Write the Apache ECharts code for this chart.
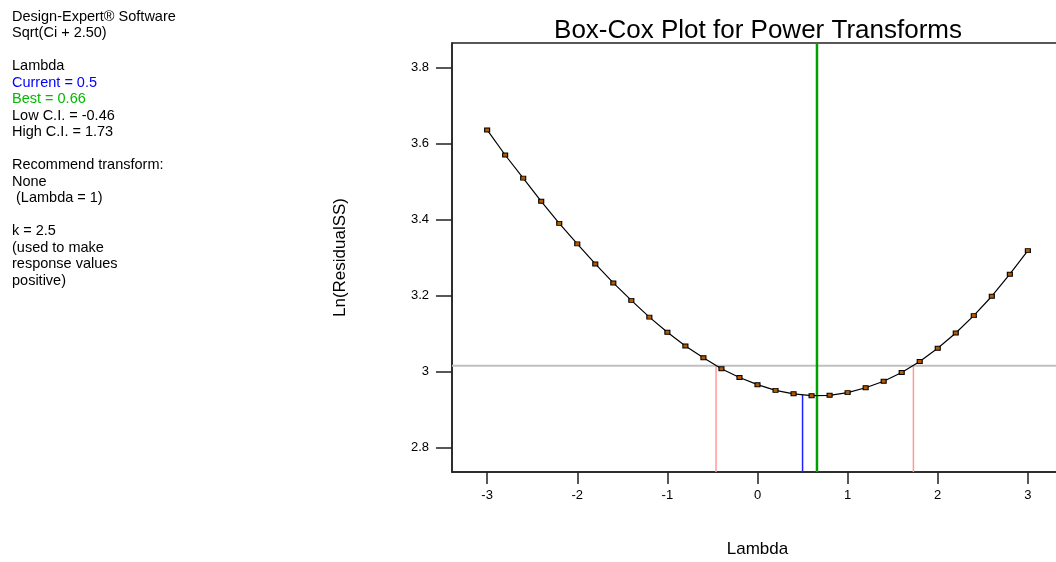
<!DOCTYPE html>
<html>
<head>
<meta charset="utf-8">
<script src="https://cdn.jsdelivr.net/npm/echarts@6/dist/echarts.min.js"></script>
<style>html,body{margin:0;padding:0;background:#fff;}#c{width:1056px;height:562px;}</style>
</head>
<body>
<div id="c"></div>
<script>
// ---- data ----
const lambdas = [-3,-2.8,-2.6,-2.4,-2.2,-2,-1.8,-1.6,-1.4,-1.2,-1,-0.8,-0.6,-0.4,-0.2,0,0.2,0.4,0.6,0.8,1,1.2,1.4,1.6,1.8,2,2.2,2.4,2.6,2.8,3];
const lnResidualSS = [3.636,3.570,3.509,3.448,3.390,3.336,3.283,3.233,3.187,3.143,3.103,3.067,3.036,3.007,2.984,2.965,2.950,2.941,2.936,2.937,2.944,2.957,2.974,2.997,3.026,3.061,3.101,3.147,3.198,3.256,3.318];
const xTicks = [-3,-2,-1,0,1,2,3];
const yTicks = [2.8,3.0,3.2,3.4,3.6,3.8];
const xRange = [-3.39, 3.39];
const yRange = [2.735, 3.865];
const ciThreshold = 3.015;
const currentLambda = 0.5, currentValue = 2.938;
const bestLambda = 0.66;
const lowCI = -0.46, highCI = 1.73;
const infoLines = [
  ['Design-Expert® Software','#000'],
  ['Sqrt(Ci + 2.50)','#000'],
  ['',''],
  ['Lambda','#000'],
  ['Current = 0.5','#0000ff'],
  ['Best = 0.66','#00bb00'],
  ['Low C.I. = -0.46','#000'],
  ['High C.I. = 1.73','#000'],
  ['',''],
  ['Recommend transform:','#000'],
  ['None','#000'],
  [' (Lambda = 1)','#000'],
  ['',''],
  ['k = 2.5','#000'],
  ['(used to make','#000'],
  ['response values','#000'],
  ['positive)','#000']
];

const FONT = 'Liberation Sans, Arial, sans-serif';
const chart = echarts.init(document.getElementById('c'));
const lineH = 16.5;
const graphics = [];
infoLines.forEach((l, i) => {
  if (!l[0]) return;
  graphics.push({
    type: 'text', left: 12, top: 9 + i * lineH,
    style: { text: l[0], fill: l[1], font: '14.5px ' + FONT }
  });
});

function vline(x, y0, y1, color, w) {
  return { type: 'line', data: [[x, y0], [x, y1]], symbol: 'none', silent: true,
    lineStyle: { color: color, width: w }, z: 2 };
}

chart.setOption({
  animation: false,
  title: {
    text: 'Box-Cox Plot for Power Transforms',
    left: 753, top: 13, textAlign: 'center',
    textStyle: { fontFamily: FONT, fontSize: 26, fontWeight: 'normal', color: '#000' }
  },
  graphic: graphics,
  grid: { left: 452, top: 43, width: 611, height: 429, show: true, borderColor: '#222', borderWidth: 1.5,
    outerBoundsMode: 'none', containLabel: false },
  xAxis: {
    type: 'value', min: xRange[0], max: xRange[1],
    name: 'Lambda', nameLocation: 'middle', nameGap: 69,
    nameTextStyle: { fontFamily: FONT, fontSize: 17, color: '#000' },
    axisLine: { show: true, onZero: false, lineStyle: { color: '#222', width: 1.5 } },
    axisTick: { show: true, length: 12, lineStyle: { color: '#222', width: 1.5 }, customValues: xTicks },
    axisLabel: { customValues: xTicks, margin: 17, fontFamily: FONT, fontSize: 13, color: '#000' },
    splitLine: { show: false }
  },
  yAxis: {
    type: 'value', min: yRange[0], max: yRange[1],
    name: 'Ln(ResidualSS)', nameLocation: 'middle', nameGap: 103,
    nameTextStyle: { fontFamily: FONT, fontSize: 17, color: '#000' },
    axisLine: { show: true, onZero: false, lineStyle: { color: '#222', width: 1.5 } },
    axisTick: { show: true, length: 16, lineStyle: { color: '#222', width: 1.5 }, customValues: yTicks },
    axisLabel: { customValues: yTicks, margin: 23, fontFamily: FONT, fontSize: 13, color: '#000',
      formatter: v => String(Math.round(v * 10) / 10) },
    splitLine: { show: false }
  },
  series: [
    { type: 'line', data: [[xRange[0], ciThreshold], [xRange[1], ciThreshold]], symbol: 'none', silent: true,
      lineStyle: { color: '#c0c0c0', width: 2 }, z: 1 },
    vline(lowCI, yRange[0], ciThreshold, '#ff9999', 1.5),
    vline(highCI, yRange[0], ciThreshold, '#ff9999', 1.5),
    vline(currentLambda, yRange[0], currentValue, '#2020ff', 1.5),
    vline(bestLambda, yRange[0], yRange[1], '#00a000', 2.5),
    { type: 'line', data: lambdas.map((x, i) => [x, lnResidualSS[i]]),
      symbol: 'rect', symbolSize: [5, 4], showSymbol: true,
      itemStyle: { color: '#b35900', borderColor: '#000', borderWidth: 1 },
      lineStyle: { color: '#000', width: 1.2 }, z: 5 }
  ]
});
</script>
</body>
</html>
